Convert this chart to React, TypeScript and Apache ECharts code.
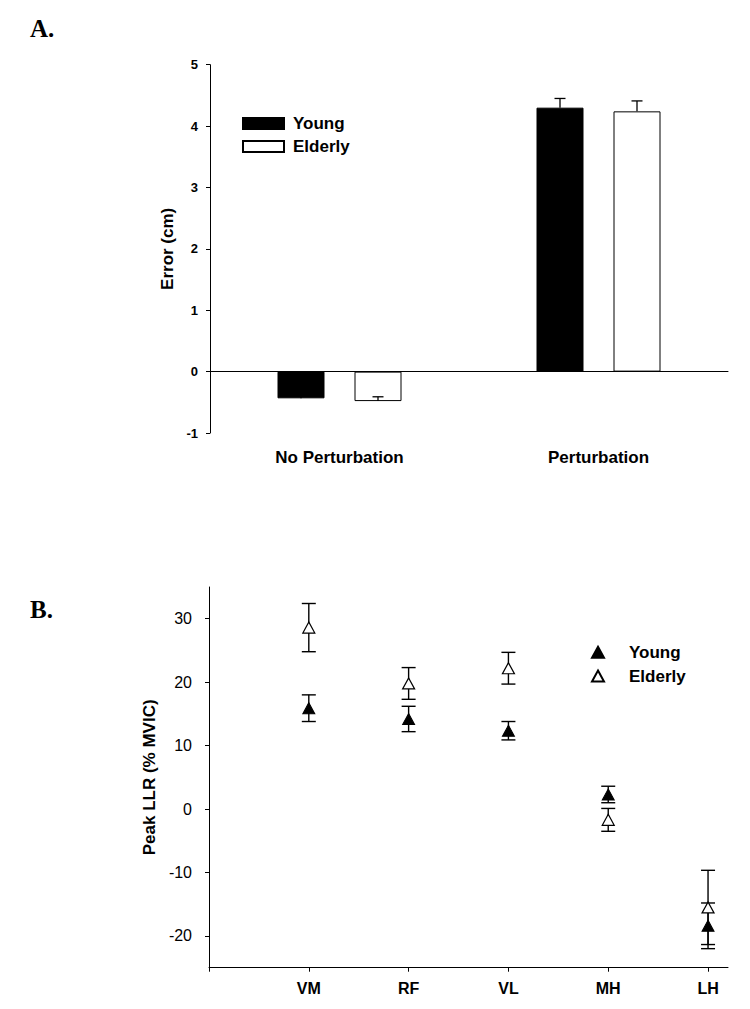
import React, { useEffect, useRef } from "react";
import * as echarts from "echarts";

// Panel A data
const conditions = ["No Perturbation", "Perturbation"];
const youngError = [-0.435, 4.3];
const youngErrorSE = [0.06, 0.15];
const elderlyError = [-0.48, 4.24];
const elderlyErrorSE = [0.07, 0.17];
const errorTicks = [-1, 0, 1, 2, 3, 4, 5];

// Panel B data
const muscles = ["VM", "RF", "VL", "MH", "LH"];
const youngLLR = [15.9, 14.2, 12.35, 2.3, -18.4];
const youngLLRSE = [2.1, 2.0, 1.45, 1.3, 3.6];
const elderlyLLR = [28.6, 19.8, 22.2, -1.7, -15.5];
const elderlyLLRSE = [3.8, 2.5, 2.5, 1.8, 5.85];
const llrTicks = [-20, -10, 0, 10, 20, 30];

const SANS = "'Liberation Sans', Arial, Helvetica, sans-serif";
const SERIF = "'Liberation Serif', 'Times New Roman', serif";

const BAR_W = 47;
const BAR_GAP_PX = 30;

function optionA(): any {
  const errData: any[] = [];
  conditions.forEach((_, i) => {
    errData.push([i, youngError[i], youngErrorSE[i], -1]);
    errData.push([i, elderlyError[i], elderlyErrorSE[i], 1]);
  });
  return {
    animation: false,
    grid: { left: 210, right: 22, top: 64.7, bottom: 500 - 433 },
    legend: {
      orient: "vertical",
      left: 242,
      top: 115,
      padding: 0,
      itemGap: 6,
      itemWidth: 41,
      itemHeight: 11,
      icon: "rect",
      data: ["Young", "Elderly"],
      textStyle: { fontFamily: SANS, fontWeight: "bold", fontSize: 17, color: "#000", padding: [0, 0, 0, 4] },
    },
    xAxis: {
      type: "category",
      data: conditions,
      axisLine: { lineStyle: { color: "#000", width: 1 } },
      axisTick: { alignWithLabel: true, length: 4, lineStyle: { color: "#000" } },
      axisLabel: { fontFamily: SANS, fontWeight: "bold", fontSize: 17, color: "#000", margin: 16 },
      splitLine: { show: false },
    },
    yAxis: {
      type: "value",
      min: errorTicks[0],
      max: errorTicks[errorTicks.length - 1],
      interval: 1,
      name: "Error (cm)",
      nameLocation: "middle",
      nameGap: 32,
      nameRotate: 90,
      nameTextStyle: { fontFamily: SANS, fontWeight: "bold", fontSize: 17, color: "#000" },
      axisLine: { show: true, lineStyle: { color: "#000", width: 1 } },
      axisTick: { show: true, length: 4, lineStyle: { color: "#000" } },
      axisLabel: { fontFamily: SANS, fontWeight: "bold", fontSize: 13, color: "#000", margin: 12 },
      splitLine: { show: false },
    },
    graphic: [
      {
        type: "text",
        left: 30,
        top: 16,
        style: { text: "A.", font: `bold 25px ${SERIF}`, fill: "#000" },
      },
    ],
    series: [
      {
        name: "Young",
        type: "bar",
        data: youngError,
        barWidth: BAR_W,
        barGap: `${(BAR_GAP_PX / BAR_W) * 100}%`,
        itemStyle: { color: "#000", borderColor: "#000", borderWidth: 1 },
        markLine: {
          silent: true,
          symbol: "none",
          label: { show: false },
          lineStyle: { color: "#000", width: 1, type: "solid" },
          data: [{ yAxis: 0 }],
          z: 1,
        },
        z: 2,
      },
      {
        name: "Elderly",
        type: "bar",
        data: elderlyError,
        barWidth: BAR_W,
        itemStyle: { color: "#fff", borderColor: "#000", borderWidth: 1 },
        z: 2,
      },
      {
        type: "custom",
        data: errData,
        encode: { x: 0, y: 1 },
        z: 3,
        renderItem: (params: any, api: any) => {
          const c = api.value(0);
          const m = api.value(1);
          const e = api.value(2);
          const side = api.value(3);
          const off = side * (BAR_W + BAR_GAP_PX) / 2;
          const p0 = api.coord([c, m]);
          const p1 = api.coord([c, m + e]);
          const x = p0[0] + off;
          const hw = 5.5;
          const st = { stroke: "#000", lineWidth: 1.3 };
          return {
            type: "group",
            children: [
              { type: "line", shape: { x1: x, y1: p0[1], x2: x, y2: p1[1] }, style: st },
              { type: "line", shape: { x1: x - hw, y1: p1[1], x2: x + hw, y2: p1[1] }, style: st },
            ],
          };
        },
      },
    ],
  };
}

function optionB(): any {
  const errY: any[] = muscles.map((_, i) => [i + 1, youngLLR[i], youngLLRSE[i]]);
  const errE: any[] = muscles.map((_, i) => [i + 1, elderlyLLR[i], elderlyLLRSE[i]]);
  const renderErr = (params: any, api: any) => {
    const x = api.value(0);
    const m = api.value(1);
    const e = api.value(2);
    const top = api.coord([x, m + e]);
    const bot = api.coord([x, m - e]);
    const hw = 7;
    const st = { stroke: "#000", lineWidth: 1.4 };
    return {
      type: "group",
      children: [
        { type: "line", shape: { x1: top[0], y1: top[1], x2: bot[0], y2: bot[1] }, style: st },
        { type: "line", shape: { x1: top[0] - hw, y1: top[1], x2: top[0] + hw, y2: top[1] }, style: st },
        { type: "line", shape: { x1: bot[0] - hw, y1: bot[1], x2: bot[0] + hw, y2: bot[1] }, style: st },
      ],
    };
  };
  return {
    animation: false,
    grid: { left: 209, right: 22, top: 87, bottom: 41.3 },
    legend: {
      orient: "vertical",
      left: 591,
      top: 143.8,
      padding: 0,
      itemGap: 6.7,
      itemWidth: 12,
      itemHeight: 11,
      data: ["Young", "Elderly"],
      textStyle: { fontFamily: SANS, fontWeight: "bold", fontSize: 17, color: "#000", padding: [0, 0, 0, 20] },
    },
    xAxis: {
      type: "value",
      min: 0,
      max: 5.2,
      axisLine: { show: true, onZero: false, lineStyle: { color: "#000", width: 1 } },
      axisTick: { show: true, length: 4, lineStyle: { color: "#000" }, customValues: [0, 1, 2, 3, 4, 5] },
      axisLabel: {
        fontFamily: SANS,
        fontWeight: "bold",
        fontSize: 16,
        color: "#000",
        margin: 13,
        customValues: muscles.map((_, i) => i + 1),
        formatter: (v: number) => muscles[Math.round(v) - 1] || "",
      },
      splitLine: { show: false },
    },
    yAxis: {
      type: "value",
      min: -25,
      max: 35,
      interval: 5,
      name: "Peak LLR (% MVIC)",
      nameLocation: "middle",
      nameGap: 44,
      nameRotate: 90,
      nameTextStyle: { fontFamily: SANS, fontWeight: "bold", fontSize: 17, color: "#000" },
      axisLine: { show: true, onZero: false, lineStyle: { color: "#000", width: 1 } },
      axisTick: { show: true, length: 4, lineStyle: { color: "#000" }, customValues: llrTicks },
      axisLabel: { fontFamily: SANS, fontSize: 16, color: "#000", margin: 17, customValues: llrTicks },
      splitLine: { show: false },
    },
    graphic: [
      {
        type: "text",
        left: 30,
        top: 97,
        style: { text: "B.", font: `bold 25px ${SERIF}`, fill: "#000" },
      },
    ],
    series: [
      { type: "custom", data: errY, encode: { x: 0, y: 1 }, renderItem: renderErr, z: 1 },
      { type: "custom", data: errE, encode: { x: 0, y: 1 }, renderItem: renderErr, z: 1 },
      {
        name: "Young",
        type: "scatter",
        symbol: "triangle",
        symbolSize: [12, 11],
        data: muscles.map((_, i) => [i + 1, youngLLR[i]]),
        itemStyle: { color: "#000", borderColor: "#000", borderWidth: 1, opacity: 1 },
        z: 3,
      },
      {
        name: "Elderly",
        type: "scatter",
        symbol: "triangle",
        symbolSize: [12, 11],
        data: muscles.map((_, i) => [i + 1, elderlyLLR[i]]),
        itemStyle: { color: "#fff", borderColor: "#000", borderWidth: 1.2, opacity: 1 },
        z: 3,
      },
    ],
  };
}

export default function App() {
  const refA = useRef<HTMLDivElement>(null);
  const refB = useRef<HTMLDivElement>(null);
  useEffect(() => {
    const a = echarts.init(refA.current!, undefined, { renderer: "svg" });
    const b = echarts.init(refB.current!, undefined, { renderer: "svg" });
    a.setOption(optionA());
    b.setOption(optionB());
    return () => {
      a.dispose();
      b.dispose();
    };
  }, []);
  return (
    <>
      <div ref={refA} style={{ position: "absolute", left: 0, top: 0, width: 750, height: 500, background: "#fff" }} />
      <div ref={refB} style={{ position: "absolute", left: 0, top: 500, width: 750, height: 509, background: "#fff" }} />
    </>
  );
}
